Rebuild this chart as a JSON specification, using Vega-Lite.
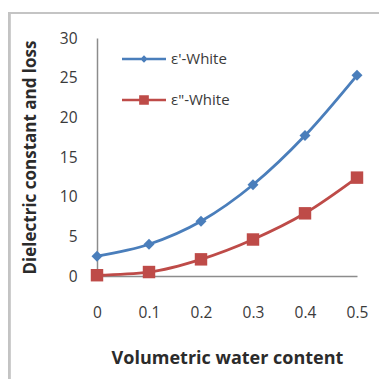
{
  "$schema": "https://vega.github.io/schema/vega-lite/v6.json",
  "width": 260,
  "height": 238,
  "autosize": {"type": "none"},
  "padding": {"left": 97, "top": 38, "right": 22, "bottom": 103},
  "background": "white",
  "config": {
    "view": {"stroke": null},
    "font": "Open Sans",
    "axis": {
      "grid": false,
      "ticks": false,
      "domainColor": "#8c8c8c",
      "domainWidth": 1.5,
      "labelFont": "Open Sans",
      "labelFontSize": 15.5,
      "labelColor": "#3a3a3a",
      "titleFont": "Open Sans",
      "titleFontSize": 17,
      "titleFontWeight": "bold",
      "titleColor": "#2b2b2b"
    }
  },
  "data": {
    "values": [
      {"water": 0.0, "series": "ε'-White", "value": 2.5},
      {"water": 0.1, "series": "ε'-White", "value": 4.0},
      {"water": 0.2, "series": "ε'-White", "value": 6.9},
      {"water": 0.3, "series": "ε'-White", "value": 11.5},
      {"water": 0.4, "series": "ε'-White", "value": 17.7},
      {"water": 0.5, "series": "ε'-White", "value": 25.3},
      {"water": 0.0, "series": "ε\"-White", "value": 0.1},
      {"water": 0.1, "series": "ε\"-White", "value": 0.5},
      {"water": 0.2, "series": "ε\"-White", "value": 2.1},
      {"water": 0.3, "series": "ε\"-White", "value": 4.6},
      {"water": 0.4, "series": "ε\"-White", "value": 7.9},
      {"water": 0.5, "series": "ε\"-White", "value": 12.4}
    ]
  },
  "encoding": {
    "x": {
      "field": "water",
      "type": "quantitative",
      "scale": {"domain": [0, 0.5], "nice": false, "zero": false},
      "axis": {
        "title": "Volumetric water content",
        "titleFontSize": 18,
        "values": [0, 0.1, 0.2, 0.3, 0.4, 0.5],
        "format": "~g",
        "labelPadding": 29,
        "titlePadding": 29,
        "labelFlush": false
      }
    },
    "y": {
      "field": "value",
      "type": "quantitative",
      "scale": {"domain": [0, 30], "nice": false},
      "axis": {
        "title": "Dielectric constant and loss",
        "values": [0, 5, 10, 15, 20, 25, 30],
        "labelPadding": 20,
        "titlePadding": 20
      }
    }
  },
  "layer": [
    {
      "description": "Chart frame",
      "mark": {"type": "rect", "fill": null, "stroke": "#c4c4c4", "strokeWidth": 2, "clip": false},
      "encoding": {
        "x": {"datum": -0.169, "type": "quantitative"},
        "x2": {"datum": 0.56},
        "y": {"datum": 33.15, "type": "quantitative"},
        "y2": {"datum": -20}
      }
    },
    {
      "mark": {"type": "line", "interpolate": "monotone", "strokeWidth": 2.8},
      "encoding": {
        "color": {
          "field": "series",
          "type": "nominal",
          "scale": {"domain": ["ε'-White", "ε\"-White"], "range": ["#4a7ebb", "#be4b48"]}
        }
      }
    },
    {
      "transform": [{"filter": "datum.series === \"ε'-White\""}],
      "mark": {"type": "point", "shape": "diamond", "filled": true, "size": 120, "opacity": 1, "color": "#4a7ebb"}
    },
    {
      "transform": [{"filter": "datum.series === 'ε\"-White'"}],
      "mark": {"type": "point", "shape": "square", "filled": true, "size": 155, "opacity": 1, "color": "#be4b48"}
    },
    {
      "description": "Invisible points that carry the legend (line plus marker symbols)",
      "mark": {"type": "point", "filled": true, "opacity": 0},
      "encoding": {
        "color": {"field": "series", "type": "nominal"},
        "shape": {
          "field": "series",
          "type": "nominal",
          "scale": {
            "domain": ["ε'-White", "ε\"-White"],
            "range": [
              "M-1,-0.06H1V0.06H-1Z M0,-0.17L0.17,0L0,0.17L-0.17,0Z",
              "M-1,-0.06H1V0.06H-1Z M-0.22,-0.22H0.22V0.22H-0.22Z"
            ]
          },
          "legend": {
            "title": null,
            "orient": "none",
            "legendX": 25,
            "legendY": -1,
            "symbolSize": 1936,
            "symbolOpacity": 1,
            "symbolStrokeWidth": 0,
            "labelFont": "Open Sans",
            "labelFontSize": 15,
            "labelColor": "#3a3a3a",
            "labelOffset": 5,
            "rowPadding": 11,
            "padding": 0
          }
        }
      }
    }
  ]
}
